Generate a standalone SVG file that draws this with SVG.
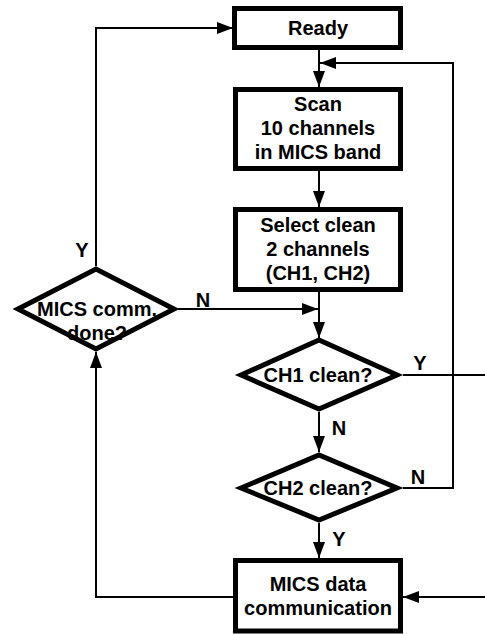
<svg xmlns="http://www.w3.org/2000/svg" width="485" height="634" viewBox="0 0 485 634">
<style>
.box{fill:#fff;stroke:#000;stroke-width:5}
.dia{fill:#fff;stroke:#000;stroke-width:5;stroke-linejoin:miter;stroke-miterlimit:10}
.c{fill:none;stroke:#000;stroke-width:2}
text{font-family:"Liberation Sans",Arial,Helvetica,sans-serif;font-weight:bold;font-size:20px;fill:#000}
.m{text-anchor:middle}
</style>
<defs>
<marker id="ah" markerWidth="16" markerHeight="12" refX="16" refY="6" orient="auto" markerUnits="userSpaceOnUse"><path d="M0,0 L16,6 L0,12 z" fill="#000"/></marker>
</defs>
<rect width="485" height="634" fill="#fff"/>
<g id="connectors">
<path class="c" d="M319,50 L319,87" marker-end="url(#ah)"/>
<path class="c" d="M319,171 L319,207" marker-end="url(#ah)"/>
<path class="c" d="M319,292 L319,338" marker-end="url(#ah)"/>
<path class="c" d="M319,412 L319,452" marker-end="url(#ah)"/>
<path class="c" d="M319,523 L319,558" marker-end="url(#ah)"/>
<path class="c" d="M403,488 L453,488 L453,63 L320,63" marker-end="url(#ah)"/>
<path class="c" d="M403,375 L485,375"/>
<path class="c" d="M485,597 L403,597" marker-end="url(#ah)"/>
<path class="c" d="M233,597 L96,597 L96,352" marker-end="url(#ah)"/>
<path class="c" d="M96,266 L96,28 L233,28" marker-end="url(#ah)"/>
<path class="c" d="M178,309 L318,309" marker-end="url(#ah)"/>
<text class="m" x="82" y="257">Y</text>
<text class="m" x="203" y="307">N</text>
<text class="m" x="420" y="370">Y</text>
<text class="m" x="339" y="435">N</text>
<text class="m" x="418" y="484">N</text>
<text class="m" x="339" y="546">Y</text>
</g>
<g id="ready">
<rect class="box" x="234.5" y="8.5" width="166" height="39"/>
<text class="m" x="318" y="35">Ready</text>
</g>
<g id="scan">
<rect class="box" x="235.5" y="89.5" width="165" height="79"/>
<text class="m" x="318" y="111">Scan</text>
<text class="m" x="318" y="135">10 channels</text>
<text class="m" x="318" y="159">in MICS band</text>
</g>
<g id="select">
<rect class="box" x="235.5" y="209.5" width="165" height="80"/>
<text class="m" x="318" y="232">Select clean</text>
<text class="m" x="318" y="256">2 channels</text>
<text class="m" x="318" y="280">(CH1, CH2)</text>
</g>
<g id="mics-done">
<polygon class="dia" points="18,309 96,269 174,309 96,349"/>
<text class="m" x="97" y="316">MICS comm.</text>
<text class="m" x="97" y="340">done?</text>
</g>
<g id="ch1">
<polygon class="dia" points="241,375 319,340 397,375 319,409"/>
<text class="m" x="318" y="382">CH1 clean?</text>
</g>
<g id="ch2">
<polygon class="dia" points="241,488 319,455 397,488 319,520"/>
<text class="m" x="318" y="495">CH2 clean?</text>
</g>
<g id="mics-data">
<rect class="box" x="235.5" y="560.5" width="165" height="70.5"/>
<text class="m" x="318" y="591">MICS data</text>
<text class="m" x="318" y="615">communication</text>
</g>
</svg>
